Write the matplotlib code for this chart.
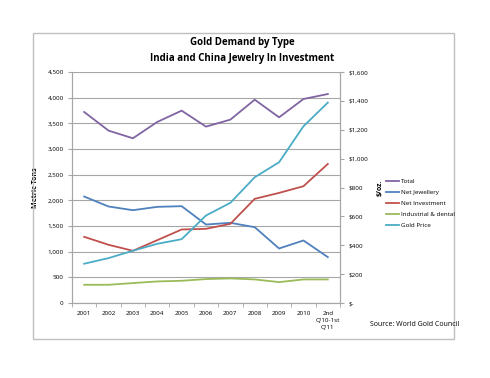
import matplotlib.pyplot as plt
from matplotlib.patches import Rectangle

plt.rcParams['font.family'] = ['Open Sans', 'DejaVu Sans']

categories = ['2001', '2002', '2003', '2004', '2005', '2006', '2007', '2008',
              '2009', '2010', "2nd\nQ'10-1st\nQ'11"]
total = [3721, 3358, 3209, 3527, 3747, 3436, 3572, 3961, 3617, 3974, 4071]
net_jewellery = [2074, 1880, 1808, 1873, 1886, 1529, 1562, 1477, 1062, 1218, 894]
net_investment = [1289, 1134, 1017, 1224, 1432, 1445, 1542, 2029, 2145, 2275, 2709]
industrial = [355, 355, 388, 420, 433, 466, 479, 459, 407, 459, 459]
gold_price = [272, 311, 362, 410, 442, 606, 694, 871, 975, 1224, 1388]

left_ticks = list(range(0, 4501, 500))
right_ticks = list(range(0, 1601, 200))

fig = plt.figure(figsize=(4.9, 3.78), dpi=100)
fig.patches.append(Rectangle((33 / 490, 1 - 339 / 378), 421 / 490, 306 / 378,
                             transform=fig.transFigure, fill=False,
                             edgecolor='#bfbfbf', linewidth=1))

ax = fig.add_axes([72 / 490, 1 - 303 / 378, 268 / 490, 231 / 378])
ax2 = ax.twinx()
x = range(len(categories))

l1, = ax.plot(x, total, color='#8064a2', lw=1.3, label='Total')
l2, = ax.plot(x, net_jewellery, color='#4f81bd', lw=1.3, label='Net Jewellery')
l3, = ax.plot(x, net_investment, color='#c0504d', lw=1.3, label='Net Investment')
l4, = ax.plot(x, industrial, color='#9bbb59', lw=1.3, label='Industrial & dental')
l5, = ax2.plot(x, gold_price, color='#4bacc6', lw=1.3, label='Gold Price')

ax.set_xlim(-0.5, len(categories) - 0.5)
ax.set_ylim(0, 4500)
ax2.set_ylim(0, 1600)
ax.set_yticks(left_ticks)
ax.set_yticklabels([f'{v:,}' for v in left_ticks], fontsize=4.5)
ax2.set_yticks(right_ticks)
ax2.set_yticklabels(['$-'] + [f'${v:,}' for v in right_ticks[1:]], fontsize=4.5)
ax.set_xticks(list(x))
ax.set_xticklabels(categories, fontsize=4.5, va='top', linespacing=1.5)
ax.set_xticks([i - 0.5 for i in range(len(categories) + 1)], minor=True)
ax.tick_params(axis='x', which='major', length=0, pad=6)
ax.tick_params(axis='x', which='minor', length=3, color='#a6a6a6')
ax.tick_params(axis='y', length=3, color='#a6a6a6', pad=3)
ax2.tick_params(axis='y', length=3, color='#a6a6a6', pad=3)
ax.grid(axis='y', color='#a6a6a6', lw=0.8)
ax.set_axisbelow(True)
for a in (ax, ax2):
    a.spines['top'].set_visible(False)
    for s in ('left', 'right', 'bottom'):
        a.spines[s].set_color('#a6a6a6')
ax.set_ylabel('Metric Tons', fontsize=5, fontweight='bold', labelpad=6)
ax2.set_ylabel('$/oz.', fontsize=5, fontweight='bold', labelpad=6)

fig.text(242 / 490, 1 - 43 / 378, 'Gold Demand by Type', ha='center', va='center',
         fontsize=7, fontweight='bold')
fig.text(242 / 490, 1 - 58 / 378, 'India and China Jewelry In Investment',
         ha='center', va='center', fontsize=7, fontweight='bold')
fig.text(370 / 490, 1 - 325 / 378, 'Source: World Gold Council', fontsize=5,
         va='center')

fig.legend(handles=[l1, l2, l3, l4, l5], loc='upper left',
           bbox_to_anchor=(380 / 490, 1 - 173 / 378), frameon=False,
           fontsize=4.5, handlelength=2.2, handletextpad=0.2, labelspacing=0.9)

fig.savefig('out.png', dpi=100)
